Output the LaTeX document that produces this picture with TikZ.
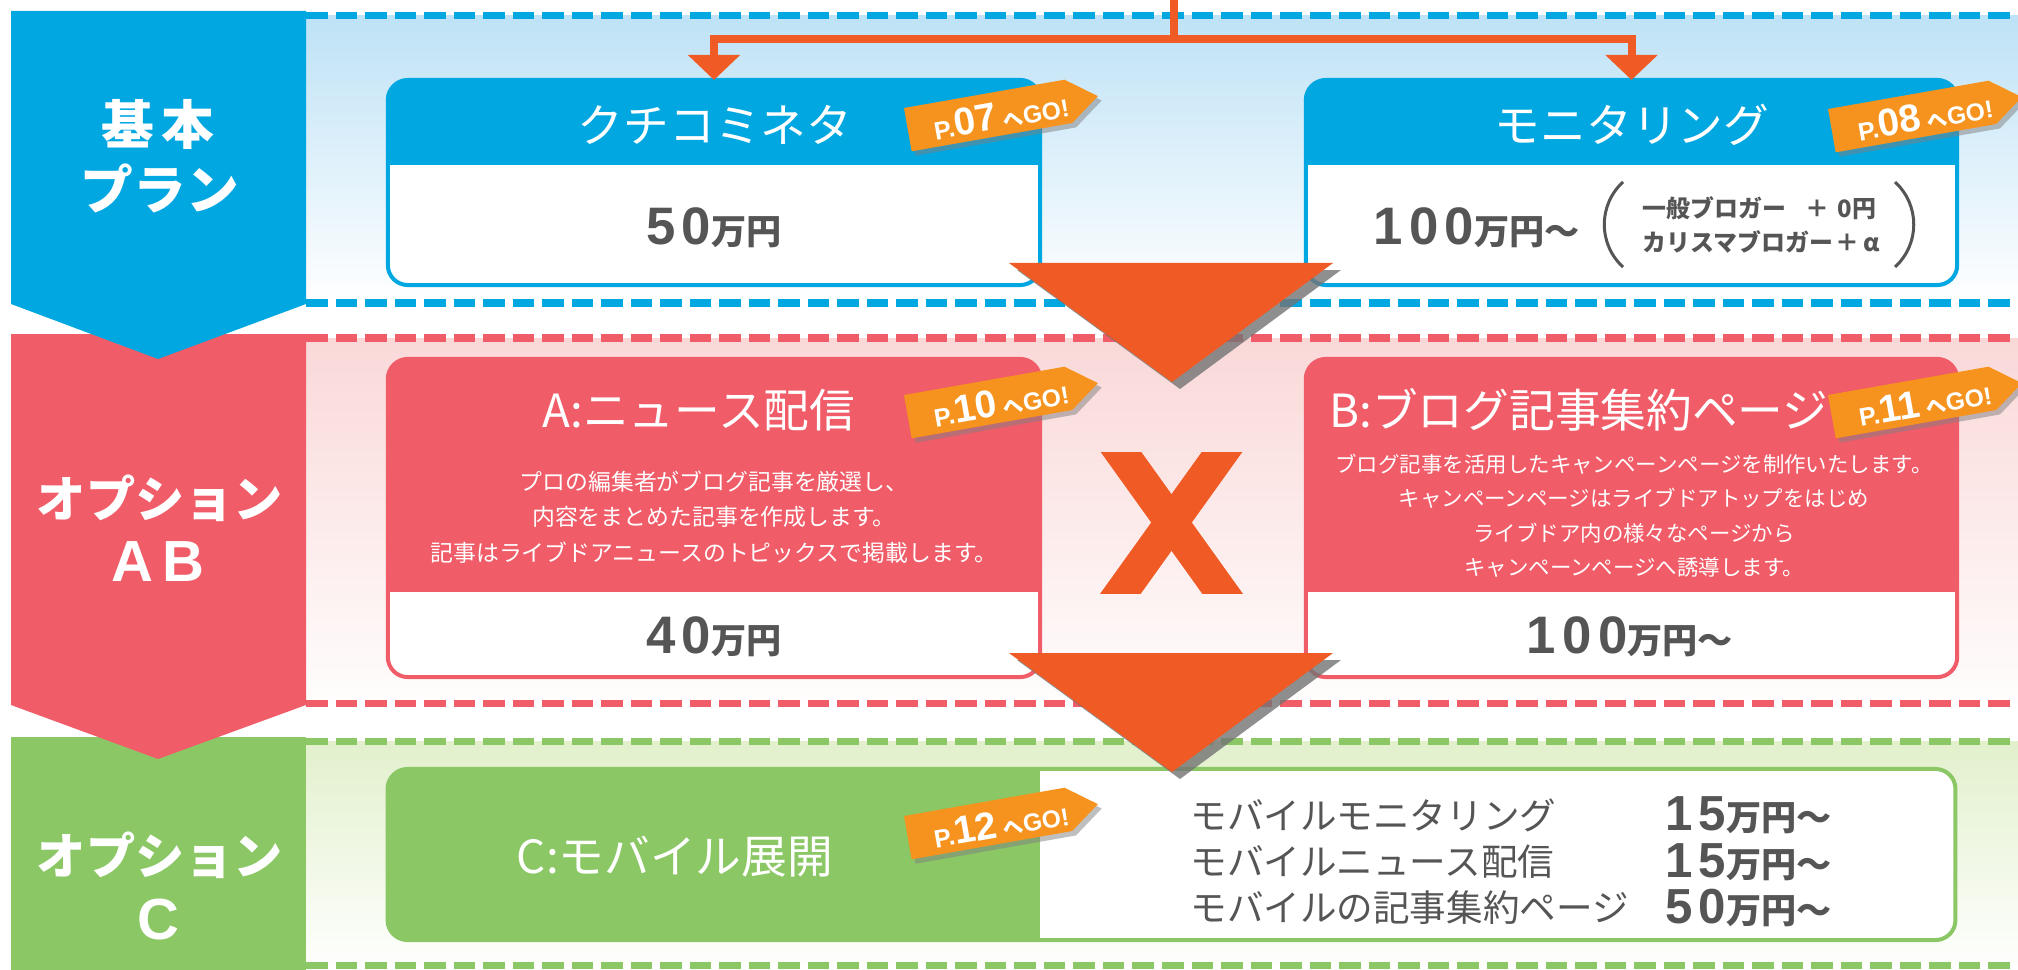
\documentclass[tikz,border=0pt]{standalone}
\usepackage{fontspec}
\setmainfont{Liberation Sans}
\newfontfamily\jp{Noto Sans CJK JP}
\newfontfamily\digits{Liberation Sans}[LetterSpace=12]
\usetikzlibrary{arrows.meta}

\definecolor{kihon}{RGB}{0,167,225}
\definecolor{kihonbg}{RGB}{190,226,246}
\definecolor{optab}{RGB}{240,92,104}
\definecolor{optabbg}{RGB}{250,216,216}
\definecolor{optc}{RGB}{139,199,101}
\definecolor{optcbg}{RGB}{226,240,204}
\definecolor{flow}{RGB}{240,90,36}
\definecolor{tagorange}{RGB}{246,147,30}
\definecolor{ink}{RGB}{85,85,85}

\tikzset{
  banddash/.style={line width=0.07cm, dash pattern=on 0.215cm off 0.08cm},
  pbox/.style={rectangle, rounded corners=0.2cm, fill=white, line width=0.04cm, inner sep=0pt, outer sep=0pt},
  tabtext/.style={text=white, font=\jp\bfseries\fontsize{14}{16}\selectfont},
  boxtitle/.style={text=white, font=\jp\fontsize{13}{16}\selectfont},
  desc/.style={text=white, align=center, font=\jp\fontsize{6.5}{10}\selectfont},
  price/.style={text=ink, font=\digits\bfseries\fontsize{15}{15}\selectfont},
  listtext/.style={text=ink, font=\jp\fontsize{10.4}{12}\selectfont},
  tagtext/.style={text=white, font=\bfseries, transform shape, inner sep=0pt},
  link/.style={draw=flow, line width=0.08cm, -{Triangle[width=0.51cm,length=0.25cm]}},
}

\begin{document}
\begin{tikzpicture}[x=0.01cm, y=-0.01cm]
\useasboundingbox (0,0) rectangle (2018,970);
\fill[white] (0,0) rectangle (2018,970);

% bands
\shade[top color=kihonbg, bottom color=white] (306,16) rectangle (2018,303);
\shade[top color=optabbg, bottom color=white!95!optabbg] (306,338) rectangle (2018,703);
\shade[top color=optcbg, bottom color=white!96!optcbg] (306,741) rectangle (2018,965);

\draw[banddash, kihon] (306,16) -- (2018,16);
\draw[banddash, kihon] (306,303) -- (2018,303);
\draw[banddash, optab] (306,338) -- (2018,338);
\draw[banddash, optab] (306,703) -- (2018,703);
\draw[banddash, optc] (306,741) -- (2018,741);
\draw[banddash, optc] (306,965) -- (2018,965);

% tabs
\fill[optc] (11,737) rectangle (306,970);
\fill[optab] (11,334) -- (306,334) -- (306,705) -- (158,759) -- (11,705) -- cycle;
\fill[kihon] (11,11) -- (306,11) -- (306,304) -- (158,359) -- (11,304) -- cycle;

\node[tabtext, font=\jp\bfseries\fontsize{15}{16}\selectfont] (kihon1) at (158,124) {基\hspace{0.08cm}本};
\node[tabtext, font=\jp\bfseries\fontsize{15}{16}\selectfont] (kihon2) at (160,188) {プラン};
\node[tabtext] (optab1) at (160,498) {オプション};
\node[tabtext, font=\bfseries\fontsize{16.5}{17}\selectfont] (optab2) at (158,562) {A\,B};
\node[tabtext] (optc1) at (160,855) {オプション};
\node[tabtext, font=\bfseries\fontsize{16.5}{17}\selectfont] (optc2) at (158,920) {C};

% basic plan boxes
\node[pbox, draw=kihon, minimum width=6.52cm, minimum height=2.05cm] (kuchi) at (714,182.5) {};
\node[pbox, draw=kihon, minimum width=6.51cm, minimum height=2.05cm] (moni) at (1631.5,182.5) {};
\begin{scope}
\clip[rounded corners=0.2cm] (388,80) rectangle (1040,285);
\fill[kihon] (388,80) rectangle (1040,165);
\end{scope}
\begin{scope}
\clip[rounded corners=0.2cm] (1306,80) rectangle (1957,285);
\fill[kihon] (1306,80) rectangle (1957,165);
\end{scope}

\node[boxtitle] (kuchit) at (715,125) {クチコミネタ};
\node[boxtitle] (monit) at (1632,125) {モニタリング};
\node[price] (kuchip) at (714,228) {50{\jp\fontsize{10}{10}\selectfont 万円}};
\node[price, anchor=east] (monip) at (1592,228) {100{\jp\fontsize{10}{10}\selectfont 万円～}};
\draw[ink, line width=0.03cm] (1623,182) .. controls (1598,205) and (1598,244) .. (1623,267);
\draw[ink, line width=0.03cm] (1895,182) .. controls (1920,205) and (1920,244) .. (1895,267);
\node[text=ink, anchor=west, font=\jp\bfseries\fontsize{6.8}{8}\selectfont] (ippan) at (1630,208) {一般ブロガー\hspace{0.2cm}＋\hspace{0.08cm}0円};
\node[text=ink, anchor=west, font=\jp\bfseries\fontsize{6.8}{8}\selectfont] (charisma) at (1630,242) {カリスマブロガー\hspace{0.02cm}＋\hspace{0.05cm}α};

\coordinate (feed) at (1174,0);
\coordinate (split) at (0,39);
\draw[link] (feed) -- (split -| feed) -| (kuchi.north);
\draw[link] (feed) -- (split -| feed) -| (moni.north);

% option A and B boxes
\node[pbox, draw=optab, minimum width=6.52cm, minimum height=3.18cm] (news) at (714,518) {};
\node[pbox, draw=optab, minimum width=6.51cm, minimum height=3.18cm] (matome) at (1631.5,518) {};
\begin{scope}
\clip[rounded corners=0.2cm] (388,359) rectangle (1040,677);
\fill[optab] (388,359) rectangle (1040,592);
\end{scope}
\begin{scope}
\clip[rounded corners=0.2cm] (1306,359) rectangle (1957,677);
\fill[optab] (1306,359) rectangle (1957,592);
\end{scope}

\node[boxtitle] (newst) at (699,410) {A:ニュース配信};
\node[boxtitle] (matomet) at (1579,410) {B:ブログ記事集約ページ};
\node[desc] (newsd) at (714,517) {プロの編集者がブログ記事を厳選し、\\内容をまとめた記事を作成します。\\記事はライブドアニュースのトピックスで掲載します。};
\node[desc, font=\jp\fontsize{6.1}{9.8}\selectfont] (matomed) at (1634,516) {ブログ記事を活用したキャンペーンページを制作いたします。\\キャンペーンページはライブドアトップをはじめ\\ライブドア内の様々なページから\\キャンペーンページへ誘導します。};
\node[price] (newsp) at (714,637) {40{\jp\fontsize{10}{10}\selectfont 万円}};
\node[price] (matomep) at (1630,637) {100{\jp\fontsize{10}{10}\selectfont 万円～}};

% cross
\begin{scope}
\clip (1070,452) rectangle (1270,593);
\draw[flow, line width=0.33cm] (1103.5,427.6) -- (1239.5,617.4);
\draw[flow, line width=0.33cm] (1239.5,427.6) -- (1103.5,617.4);
\end{scope}

% option C box
\node[pbox, draw=optc, minimum width=15.67cm, minimum height=1.71cm] (mobile) at (1171.5,854.5) {};
\begin{scope}
\clip[rounded corners=0.2cm] (388,769) rectangle (1955,940);
\fill[optc] (388,769) rectangle (1040,940);
\end{scope}
\node[boxtitle] (mobilet) at (675,857) {C:モバイル展開};
\node[listtext, anchor=west] (mmoni) at (1178,815) {モバイルモニタリング};
\node[listtext, anchor=west] (mnews) at (1178,862) {モバイルニュース配信};
\node[listtext, anchor=west] (mmatome) at (1178,908) {モバイルの記事集約ページ};
\node[price, anchor=west, font=\digits\bfseries\fontsize{14}{14}\selectfont] (mmonip) at (1653,815) {15{\jp\fontsize{10}{10}\selectfont 万円～}};
\node[price, anchor=west, font=\digits\bfseries\fontsize{14}{14}\selectfont] (mnewsp) at (1653,862) {15{\jp\fontsize{10}{10}\selectfont 万円～}};
\node[price, anchor=west, font=\digits\bfseries\fontsize{14}{14}\selectfont] (mmatomep) at (1653,908) {50{\jp\fontsize{10}{10}\selectfont 万円～}};

% page tags
\foreach \tx/\ty/\pg in {904/108/07, 1828/109/08, 904/395/10, 1828/395/11, 904/816/12} {
  \begin{scope}[shift={(\tx,\ty)}, rotate=10]
  \fill[black!50, opacity=0.5] (3,5) -- (166,5) -- (196,27) -- (166,49) -- (3,49) -- cycle;
  \fill[tagorange] (0,0) -- (163,0) -- (193,22) -- (163,44) -- (0,44) -- cycle;
  \node[tagtext] (go\pg) at (94,24) {{\fontsize{7.2}{7}\selectfont P.}{\fontsize{11}{11}\selectfont \pg}\hspace{0.06cm}{\jp\fontsize{5.8}{6}\selectfont へ}{\fontsize{7}{7}\selectfont GO!}};
  \end{scope}
}

% big arrows between the bands
\fill[black!55, opacity=0.8] (1017,270) -- (1341,270) -- (1180,389) -- cycle;
\fill[flow] (1009,263) -- (1333,263) -- (1172,382) -- cycle;
\fill[black!55, opacity=0.8] (1017,660) -- (1341,660) -- (1180,779) -- cycle;
\fill[flow] (1009,653) -- (1333,653) -- (1172,772) -- cycle;

\end{tikzpicture}
\end{document}
